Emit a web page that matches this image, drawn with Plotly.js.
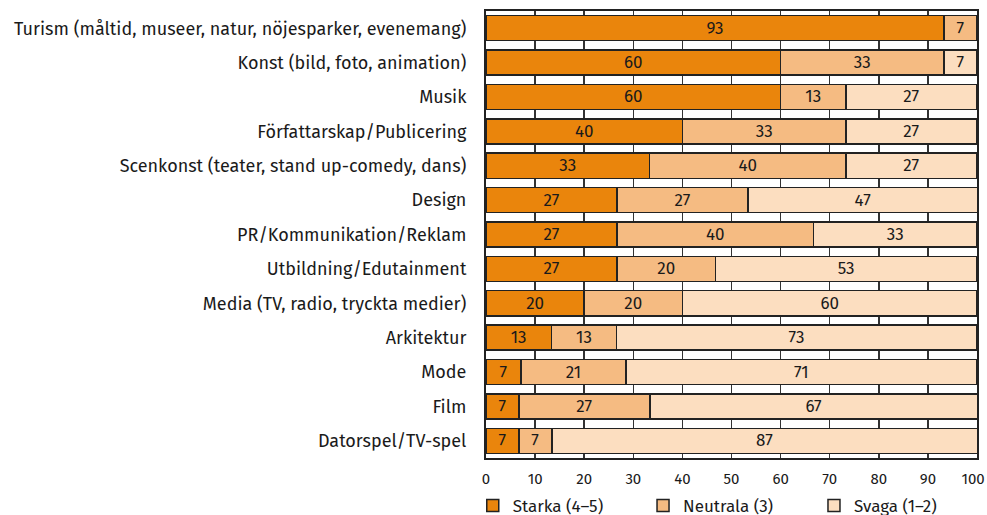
<!DOCTYPE html>
<html>
<head>
<meta charset="utf-8">
<script src="https://cdn.plot.ly/plotly-3.0.1.min.js"></script>
<style>html,body{margin:0;padding:0;background:#fff;}#chart{width:987px;height:515px;}</style>
</head>
<body>
<div id="chart"></div>
<script>
const categories = [
  "Turism (måltid, museer, natur, nöjesparker, evenemang)",
  "Konst (bild, foto, animation)",
  "Musik",
  "Författarskap/Publicering",
  "Scenkonst (teater, stand up-comedy, dans)",
  "Design",
  "PR/Kommunikation/Reklam",
  "Utbildning/Edutainment",
  "Media (TV, radio, tryckta medier)",
  "Arkitektur",
  "Mode",
  "Film",
  "Datorspel/TV-spel"
];
const starka   = [93.3, 60, 60, 40, 33.3, 26.7, 26.7, 26.7, 20, 13.3, 7.1, 6.7, 6.7];
const neutrala = [6.7, 33.3, 13.3, 33.3, 40, 26.7, 40, 20, 20, 13.3, 21.4, 26.7, 6.7];
const svaga    = [null, 6.7, 26.7, 26.7, 26.7, 46.7, 33.3, 53.3, 60, 73.3, 71.4, 66.7, 86.7];
const seriesNames = ["Starka (4–5)", "Neutrala (3)", "Svaga (1–2)"];
const xTickVals = [0,10,20,30,40,50,60,70,80,90,100];

const colors = ["#EA850C", "#F5BB82", "#FCDEC0"];
const font = "'Fira Sans','Noto Sans','Open Sans',sans-serif";
const series = [starka, neutrala, svaga];
const legendIds = ["legend", "legend2", "legend3"];
const legendX = [0.479, 0.6515, 0.8247];
const traces = series.map((vals, i) => ({
  type: "bar",
  orientation: "h",
  name: seriesNames[i],
  legend: legendIds[i],
  y: categories,
  x: vals,
  text: vals.map(v => v == null ? "" : String(Math.round(v))),
  textposition: "inside",
  insidetextanchor: "middle",
  textangle: 0,
  constraintext: "none",
  textfont: {family: font, size: 17, color: "#1a1a1a"},
  marker: {color: colors[i], line: {color: "#222", width: 1.5}},
  hoverinfo: "skip"
}));

// last tick label padded so it stays inside the page like the reference
const xTickText = xTickVals.map((v, i) => i === xTickVals.length - 1 ? String(v) + "\u00A0\u00A0" : String(v));

const layout = {
  barmode: "stack",
  bargap: 0.27,
  width: 987, height: 515,
  margin: {l: 486, r: 10, t: 11, b: 57, autoexpand: false},
  paper_bgcolor: "#fff", plot_bgcolor: "#fff",
  font: {family: font, size: 18, color: "#1a1a1a"},
  showlegend: true,
  xaxis: {
    range: [0, 100], tickvals: xTickVals, ticktext: xTickText,
    showgrid: true, gridcolor: "#333", gridwidth: 1.5,
    showline: true, mirror: true, linecolor: "#222", linewidth: 2,
    zeroline: false, ticks: "", ticklabeloverflow: "allow", ticklabelstandoff: 6,
    tickfont: {family: font, size: 15, color: "#1a1a1a"},
    fixedrange: true
  },
  yaxis: {
    autorange: "reversed", type: "category",
    showline: true, mirror: true, linecolor: "#222", linewidth: 2,
    showgrid: false, ticks: "", ticklabelstandoff: 14,
    tickfont: {family: font, size: 18, color: "#1a1a1a"},
    fixedrange: true
  }
};
legendIds.forEach((id, i) => {
  layout[id] = {
    orientation: "h", xref: "container", yref: "container",
    x: legendX[i], xanchor: "left", y: 0.0175, yanchor: "middle",
    font: {family: font, size: 17, color: "#1a1a1a"},
    itemclick: false, bgcolor: "rgba(0,0,0,0)"
  };
});
Plotly.newPlot("chart", traces, layout, {displayModeBar: false, staticPlot: true});
</script>
</body>
</html>
